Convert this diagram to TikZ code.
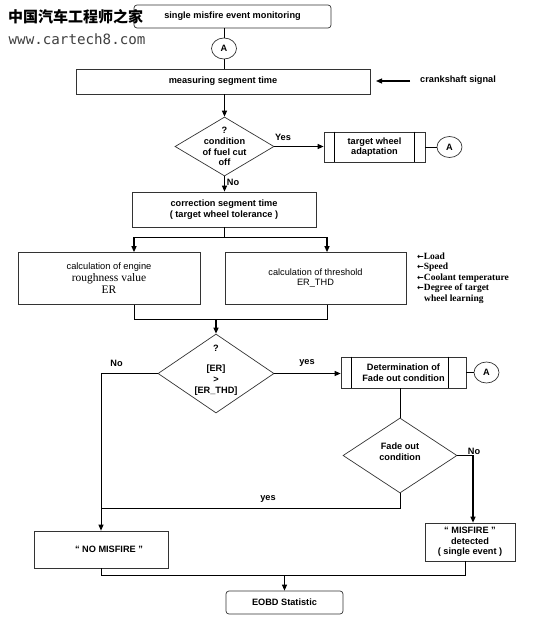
\documentclass[tikz,border=0pt]{standalone}
\usepackage{fontspec}
\setmainfont{Liberation Sans}
\newfontfamily\timesfont{Liberation Serif}
\newfontfamily\cjkfont{Noto Sans CJK SC}
\newfontfamily\webfont{DejaVu Sans Mono}
\newfontfamily\arrowfont{DejaVu Sans}
\newcommand\inarrow{{\arrowfont\bfseries\fontsize{8}{8}\selectfont ←}}
\usepackage{tikz}
\usetikzlibrary{shapes.geometric}
\usetikzlibrary{arrows.meta}

\tikzset{
  >={Triangle[length=6pt,width=5pt]},
  lbl/.style={inner sep=0pt, align=center, font=\fontsize{9.2}{10.7}\selectfont\bfseries},
  box/.style={lbl, draw=black!80, line width=0.7pt},
  roundbox/.style={box, rounded corners=3pt},
  decision/.style={diamond, draw=black!80, line width=0.7pt, inner sep=0pt},
  conn/.style={lbl, ellipse, draw=black!80, line width=0.7pt, minimum width=25pt, minimum height=21pt},
  flow/.style={->, line width=1.2pt},
  link/.style={line width=0.6pt},
}

\begin{document}
\begin{tikzpicture}[x=1pt,y=-1pt]
  \useasboundingbox (0,0) rectangle (550,629);

  \node[roundbox, minimum width=197pt, minimum height=23pt] (start) at (232.5,16.5) {single misfire event monitoring};
  \node[conn] (a1) at (224,48.5) {A};
  \node[box, minimum width=294pt, minimum height=25pt] (meas) at (223,81.5) {measuring segment time};
  \coordinate (crank) at (410,81);
  \coordinate (crankend) at (376,81);
  \node[lbl, anchor=west] (cranktxt) at (420,80) {crankshaft signal};

  \node[decision, minimum width=99pt, minimum height=59pt,
    label={[lbl]center:{?\\condition\\of fuel cut\\off}}] (fuel) at (224.5,146.5) {};
  \node[box, minimum width=101pt, minimum height=30pt] (tw) at (374.5,147) {target wheel\\adaptation};
  \node[conn] (a2) at (449.5,147) {A};
  \node[lbl] (yes1) at (283,137) {Yes};
  \node[lbl] (no1) at (233,182) {No};

  \node[box, minimum width=184pt, minimum height=35pt] (corr) at (224,209.5) {correction segment time\\( target wheel tolerance )};

  \node[box, minimum width=182pt, minimum height=52pt, font=\fontsize{9.3}{12}\selectfont] (er) at (109,278.5)
    {calculation of engine\\{\timesfont\fontsize{11.5}{12}\selectfont roughness value}\\{\timesfont\fontsize{11.5}{12}\selectfont ER}};
  \node[box, minimum width=181pt, minimum height=52pt, font=\fontsize{9.2}{10}\selectfont] (thd) at (315.5,278.5)
    {calculation of threshold\\ER\_THD};
  \node[lbl, anchor=west, align=left, font=\timesfont\bfseries\fontsize{9.5}{10.5}\selectfont] (inputs) at (417,278)
    {\inarrow Load\\\inarrow Speed\\\inarrow Coolant temperature\\\inarrow Degree of target\\\hspace*{7pt}wheel learning};

  \coordinate (erin) at (134,237);
  \coordinate (thdin) at (327,237);
  \coordinate (erout) at (134,319);
  \coordinate (thdout) at (327,319);

  \node[decision, minimum width=116pt, minimum height=79pt,
    label={[lbl, yshift=3.5pt]center:{?\\[10pt]{[ER]}\\{>}\\{[ER\_THD]}}}] (cmp) at (216,373.5) {};
  \node[box, minimum width=125pt, minimum height=31pt] (fade) at (403.5,372.5) {Determination of\\Fade out condition};
  \node[conn] (a3) at (486.5,372.5) {A};
  \node[lbl] (yes2) at (307,363) {yes};
  \node[lbl] (no2) at (116.5,363) {No};
  \coordinate (nocorner) at (101,373.5);

  \node[decision, minimum width=114pt, minimum height=75pt,
    label={[lbl, yshift=4pt]center:{Fade out\\condition}}] (fd) at (400,455.5) {};
  \coordinate (fdno) at (473,455.5);
  \node[lbl] (no3) at (474,451) {No};
  \coordinate (yesjoin) at (101,508);
  \node[lbl] (yes3) at (268,499) {yes};

  \node[box, minimum width=134pt, minimum height=37pt] (nomis) at (101,549.5) {\hspace*{16pt}“ NO MISFIRE ”};
  \node[box, minimum width=90pt, minimum height=38pt] (mis) at (470,542) {“ MISFIRE ”\\detected\\( single event )};
  \coordinate (nomisout) at (101,575);
  \coordinate (misout) at (465,575);
  \node[roundbox, minimum width=117pt, minimum height=23pt] (eobd) at (284.5,602.5) {EOBD Statistic};

  \draw[link] (start.south -| a1) -- (a1);
  \draw[link] (a1) -- (a1 |- meas.north);
  \draw[flow] (crank) -- (crankend);
  \draw[flow] (meas.south -| fuel.north) -- (fuel.north);
  \draw[flow] (fuel.east) -- (fuel.east -| tw.west);
  \draw[link] ([xshift=11pt]tw.north west) -- ([xshift=11pt]tw.south west);
  \draw[link] ([xshift=-11pt]tw.north east) -- ([xshift=-11pt]tw.south east);
  \draw[link] (tw.east |- a2) -- (a2);
  \draw[flow] (fuel.south) -- (fuel.south |- corr.north);

  \draw[link] (corr.south) -- (corr.south |- erin);
  \draw[link] (erin) -- (thdin);
  \draw[flow] (erin) -- (erin |- er.north);
  \draw[flow] (thdin) -- (thdin |- thd.north);
  \draw[link] (erout |- er.south) -- (erout) -- (thdout) -- (thdout |- thd.south);
  \draw[flow] (cmp.north |- erout) -- (cmp.north);

  \draw[flow] (cmp.east) -- (cmp.east -| fade.west);
  \draw[link] ([xshift=11pt]fade.north west) -- ([xshift=11pt]fade.south west);
  \draw[link] ([xshift=-18pt]fade.north east) -- ([xshift=-18pt]fade.south east);
  \draw[link] (fade.east) -- (a3);
  \draw[->, line width=1pt] (cmp.west) -- (nocorner) -- (nocorner |- nomis.north);
  \draw[link] (fade.south -| fd.north) -- (fd.north);
  \draw[flow] (fd.east) -- (fdno) -- (fdno |- mis.north);
  \draw[link] (fd.south) -- (fd.south |- yesjoin) -- (yesjoin);

  \draw[link] (nomis.south) -- (nomisout) -- (misout) -- (misout |- mis.south);
  \draw[flow] (eobd.north |- nomisout) -- (eobd.north);

  \node[inner sep=0pt, anchor=west, font=\cjkfont\bfseries\fontsize{15}{15}\selectfont] (wmcn) at (8,16.5) {中国汽车工程师之家};
  \node[inner sep=0pt, anchor=west, text=black!75, font=\webfont\fontsize{14.2}{14.2}\selectfont] (wmweb) at (8.5,39) {www.cartech8.com};
\end{tikzpicture}
\end{document}
